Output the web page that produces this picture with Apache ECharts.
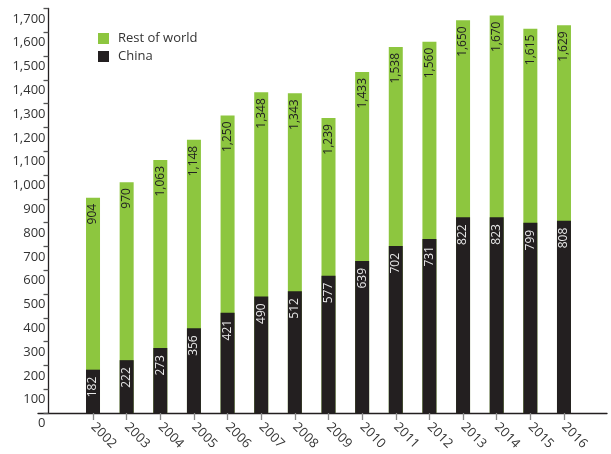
<!DOCTYPE html>
<html>
<head>
<meta charset="utf-8">
<script src="https://cdn.jsdelivr.net/npm/echarts@6/dist/echarts.min.js"></script>
<style>
html,body{margin:0;padding:0;background:#fff;}
#chart{width:611px;height:454px;}
</style>
</head>
<body>
<div id="chart"></div>
<script>
const years = ['2002','2003','2004','2005','2006','2007','2008','2009','2010','2011','2012','2013','2014','2015','2016'];
const worldTotal = [904, 970, 1063, 1148, 1250, 1348, 1343, 1239, 1433, 1538, 1560, 1650, 1670, 1615, 1629];
const china = [182, 222, 273, 356, 421, 490, 512, 577, 639, 702, 731, 822, 823, 799, 808];
const yTicks = [0, 100, 1700];

const FONT = '"Open Sans", "Noto Sans", sans-serif';
const GREEN = '#8dc63f';
const BLACK = '#231f20';
const AXIS = '#231f20';

const chart = echarts.init(document.getElementById('chart'), null, {renderer: 'canvas'});
chart.setOption({
  animation: false,
  textStyle: {fontFamily: FONT},
  legend: {
    orient: 'vertical',
    left: 93, top: 27,
    itemWidth: 11, itemHeight: 11, itemGap: 5,
    icon: 'rect',
    textStyle: {fontFamily: FONT, fontSize: 13, color: '#333', padding: [0,0,0,4]},
    data: ['Rest of world', 'China']
  },
  grid: [
    {left: 38, right: 4, top: 8.4, bottom: 41},
    {left: 76.2, right: 30.2, top: 8.4, bottom: 41}
  ],
  xAxis: [
    {gridIndex: 0, type: 'value', min: 0, max: 1,
     axisLine: {show: true, lineStyle: {color: AXIS, width: 1.3}},
     axisTick: {show: false}, axisLabel: {show: false}, splitLine: {show: false}},
    {gridIndex: 1, type: 'category', data: years, offset: 3,
     axisLine: {show: false},
     axisTick: {show: true, alignWithLabel: true, length: 7, lineStyle: {color: '#888', width: 1.3}},
     axisLabel: {rotate: -45, margin: 9, fontFamily: FONT, fontSize: 13, color: '#333'},
     splitLine: {show: false}}
  ],
  yAxis: [
    {gridIndex: 0, type: 'value', min: yTicks[0], max: yTicks[2], show: false},
    {gridIndex: 1, type: 'value', min: yTicks[0], max: yTicks[2], interval: yTicks[1],
     offset: 27.7,
     axisLine: {show: true, lineStyle: {color: AXIS, width: 1.3}},
     axisTick: {show: true, length: 5, lineStyle: {color: '#555', width: 1.3}},
     axisLabel: {fontFamily: FONT, fontSize: 13, color: '#333', margin: 3,
       verticalAlign: 'top', padding: [4,0,0,0],
       formatter: v => v.toLocaleString('en-US')},
     splitLine: {show: false}}
  ],
  series: [
    {name: 'Rest of world', type: 'bar', xAxisIndex: 1, yAxisIndex: 1,
     data: worldTotal, barWidth: 14, barGap: '-100%',
     itemStyle: {color: GREEN},
     label: {show: true, position: 'insideTop', rotate: 90, align: 'right', verticalAlign: 'middle',
       distance: 6, fontFamily: FONT, fontSize: 12, color: '#222',
       formatter: p => p.value.toLocaleString('en-US')}},
    {name: 'China', type: 'bar', xAxisIndex: 1, yAxisIndex: 1,
     data: china, barWidth: 14, barGap: '-100%',
     itemStyle: {color: BLACK},
     label: {show: true, position: 'insideTop', rotate: 90, align: 'right', verticalAlign: 'middle',
       distance: 7, fontFamily: FONT, fontSize: 12, color: '#e8e8e8',
       formatter: p => p.value.toLocaleString('en-US')}}
  ]
});
</script>
</body>
</html>
